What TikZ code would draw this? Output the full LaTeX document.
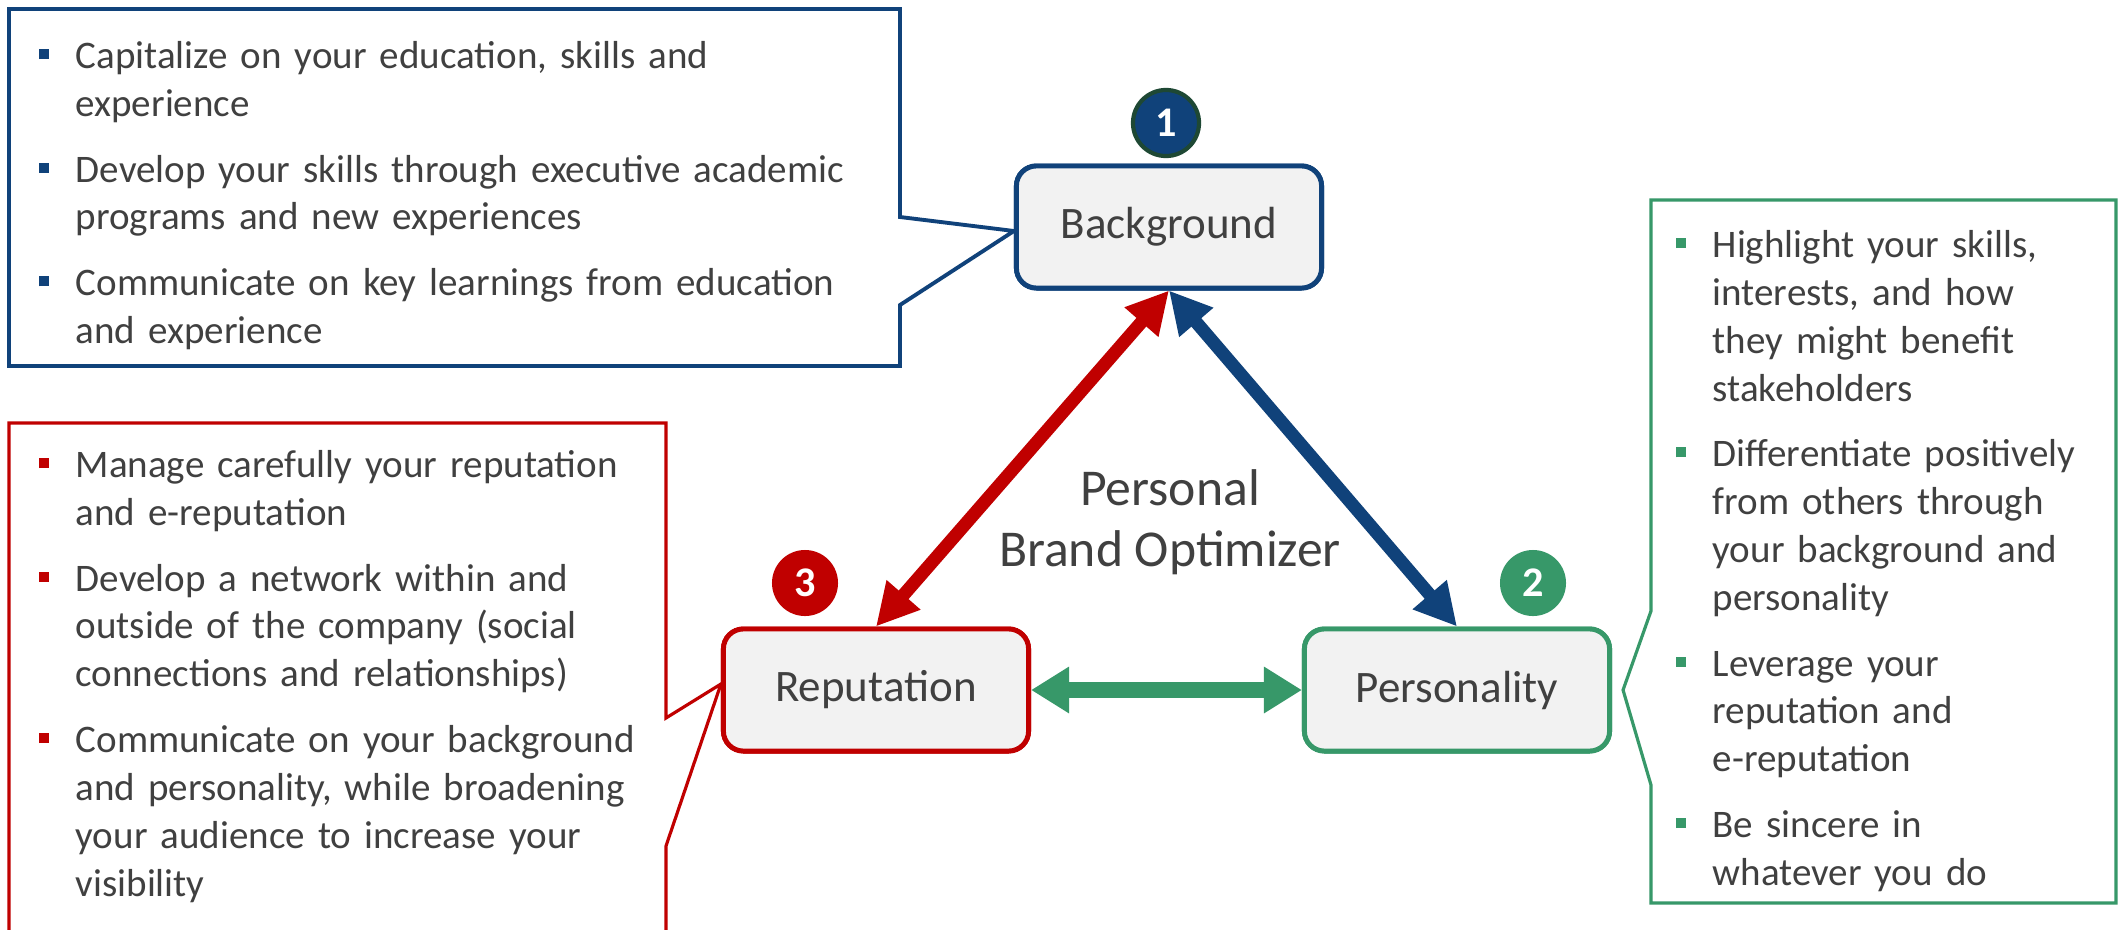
\documentclass[tikz,border=0pt]{standalone}
\usepackage{fontspec}
\setmainfont{Carlito}
\usetikzlibrary{arrows.meta,calc,positioning}

\definecolor{navy}{RGB}{16,66,122}
\definecolor{brickred}{RGB}{192,0,0}
\definecolor{leaf}{RGB}{55,152,105}
\definecolor{darkleaf}{RGB}{30,72,52}
\definecolor{boxgray}{RGB}{242,242,242}
\definecolor{txtgray}{RGB}{64,64,64}

% bullet list used inside the three callouts
\newenvironment{pbitems}[1]{%
  \begin{list}{\textcolor{#1}{\rule[0.24em]{0.1cm}{0.1cm}}}{%
    \setlength\topsep{0pt}\setlength\partopsep{0pt}%
    \setlength\parsep{0pt}\setlength\itemsep{5.1pt}%
    \setlength\labelwidth{0.1cm}\setlength\labelsep{0.27cm}%
    \setlength\leftmargin{0.37cm}\setlength\listparindent{0pt}%
    \setlength\itemindent{0pt}\setlength\rightmargin{0pt}}}%
  {\end{list}}

\begin{document}
\begin{tikzpicture}[x=0.01cm,y=-0.01cm,
  pillar/.style={draw,line width=1.4pt,rounded corners=0.2cm,fill=boxgray,
    minimum width=3.05cm,minimum height=1.22cm,text=txtgray,
    font=\fontsize{12.8}{15}\selectfont},
  badge/.style={circle,minimum size=0.66cm,inner sep=0pt,text=white,
    font=\fontsize{12}{14}\selectfont\bfseries},
  note/.style={anchor=north west,inner sep=0pt,text width=8.6cm,align=left,
    text=txtgray,font=\fontsize{11.1}{13.6}\selectfont},
  twoway/.style={{Triangle[length=0.42cm,width=0.42cm]}-{Triangle[length=0.42cm,width=0.42cm]},
    line width=0.13cm}]
  \fill[white] (0,0) rectangle (2123,930);
  \useasboundingbox (0,0) rectangle (2123,930);

  % The three pillars
  \node[pillar,draw=navy] (bg) at (1169,227) {Background};
  \node[pillar,draw=brickred] (rep) at (876,690) {Reputation};
  \node[pillar,draw=leaf] (pers) at (1457,690) {Personality};

  % Numbered badges
  \node[badge,fill=navy,draw=darkleaf,line width=1.2pt] (b1) at (1166,123) {1};
  \node[badge,fill=leaf] (b2) at (1533,583) {2};
  \node[badge,fill=brickred] (b3) at (805,583) {3};

  \node[text=txtgray,align=center,font=\fontsize{14.7}{17.5}\selectfont] (title) at (1170,522)
    {Personal\\Brand Optimizer};

  % Links between pillars
  \draw[twoway,brickred] (bg.south) -- (rep.north);
  \draw[twoway,navy] (bg.south) -- (pers.north);
  \draw[{Triangle[length=0.38cm,width=0.44cm]}-{Triangle[length=0.38cm,width=0.44cm]},
    line width=0.16cm,leaf] (rep.east) -- (pers.west);

  % Callouts
  \draw[navy,line width=1.1pt] (9,9) -- (900,9) -- (900,217) -- ($(bg.west)+(0,4)$)
    -- (900,305) -- (900,366) -- (9,366) -- cycle;
  \draw[brickred,line width=0.9pt] (9,945) -- (9,423) -- (666,423) -- (666,718)
    -- ($(rep.west)+(0,-6)$) -- (666,846) -- (666,945);
  \draw[leaf,line width=0.9pt] (1651,200) -- (2116,200) -- (2116,903) -- (1651,903)
    -- (1651,785) -- ($(pers.east)+(11,0)$) -- (1651,611) -- cycle;
  \node[pillar,draw=navy] at (bg) {Background};
  \node[pillar,draw=brickred] at (rep) {Reputation};
  \node[pillar,draw=leaf] at (pers) {Personality};

  \node[note] (bgnote) at (38,20) {\begin{pbitems}{navy}
    \item Capitalize on your education, skills and\newline experience
    \item Develop your skills through executive academic\newline programs and new experiences
    \item Communicate on key learnings from education\newline and experience
  \end{pbitems}};
  \node[note] (repnote) at (38,429) {\begin{pbitems}{brickred}
    \item Manage carefully your reputation\newline and e-reputation
    \item Develop a network within and\newline outside of the company (social\newline connections and relationships)
    \item Communicate on your background\newline and personality, while broadening\newline your audience to increase your\newline visibility
  \end{pbitems}};
  \node[note] (persnote) at (1675,209) {\begin{pbitems}{leaf}
    \item Highlight your skills,\newline interests, and how\newline they might benefit\newline stakeholders
    \item Differentiate positively\newline from others through\newline your background and\newline personality
    \item Leverage your\newline reputation and\newline e-reputation
    \item Be sincere in\newline whatever you do
  \end{pbitems}};
\end{tikzpicture}
\end{document}
